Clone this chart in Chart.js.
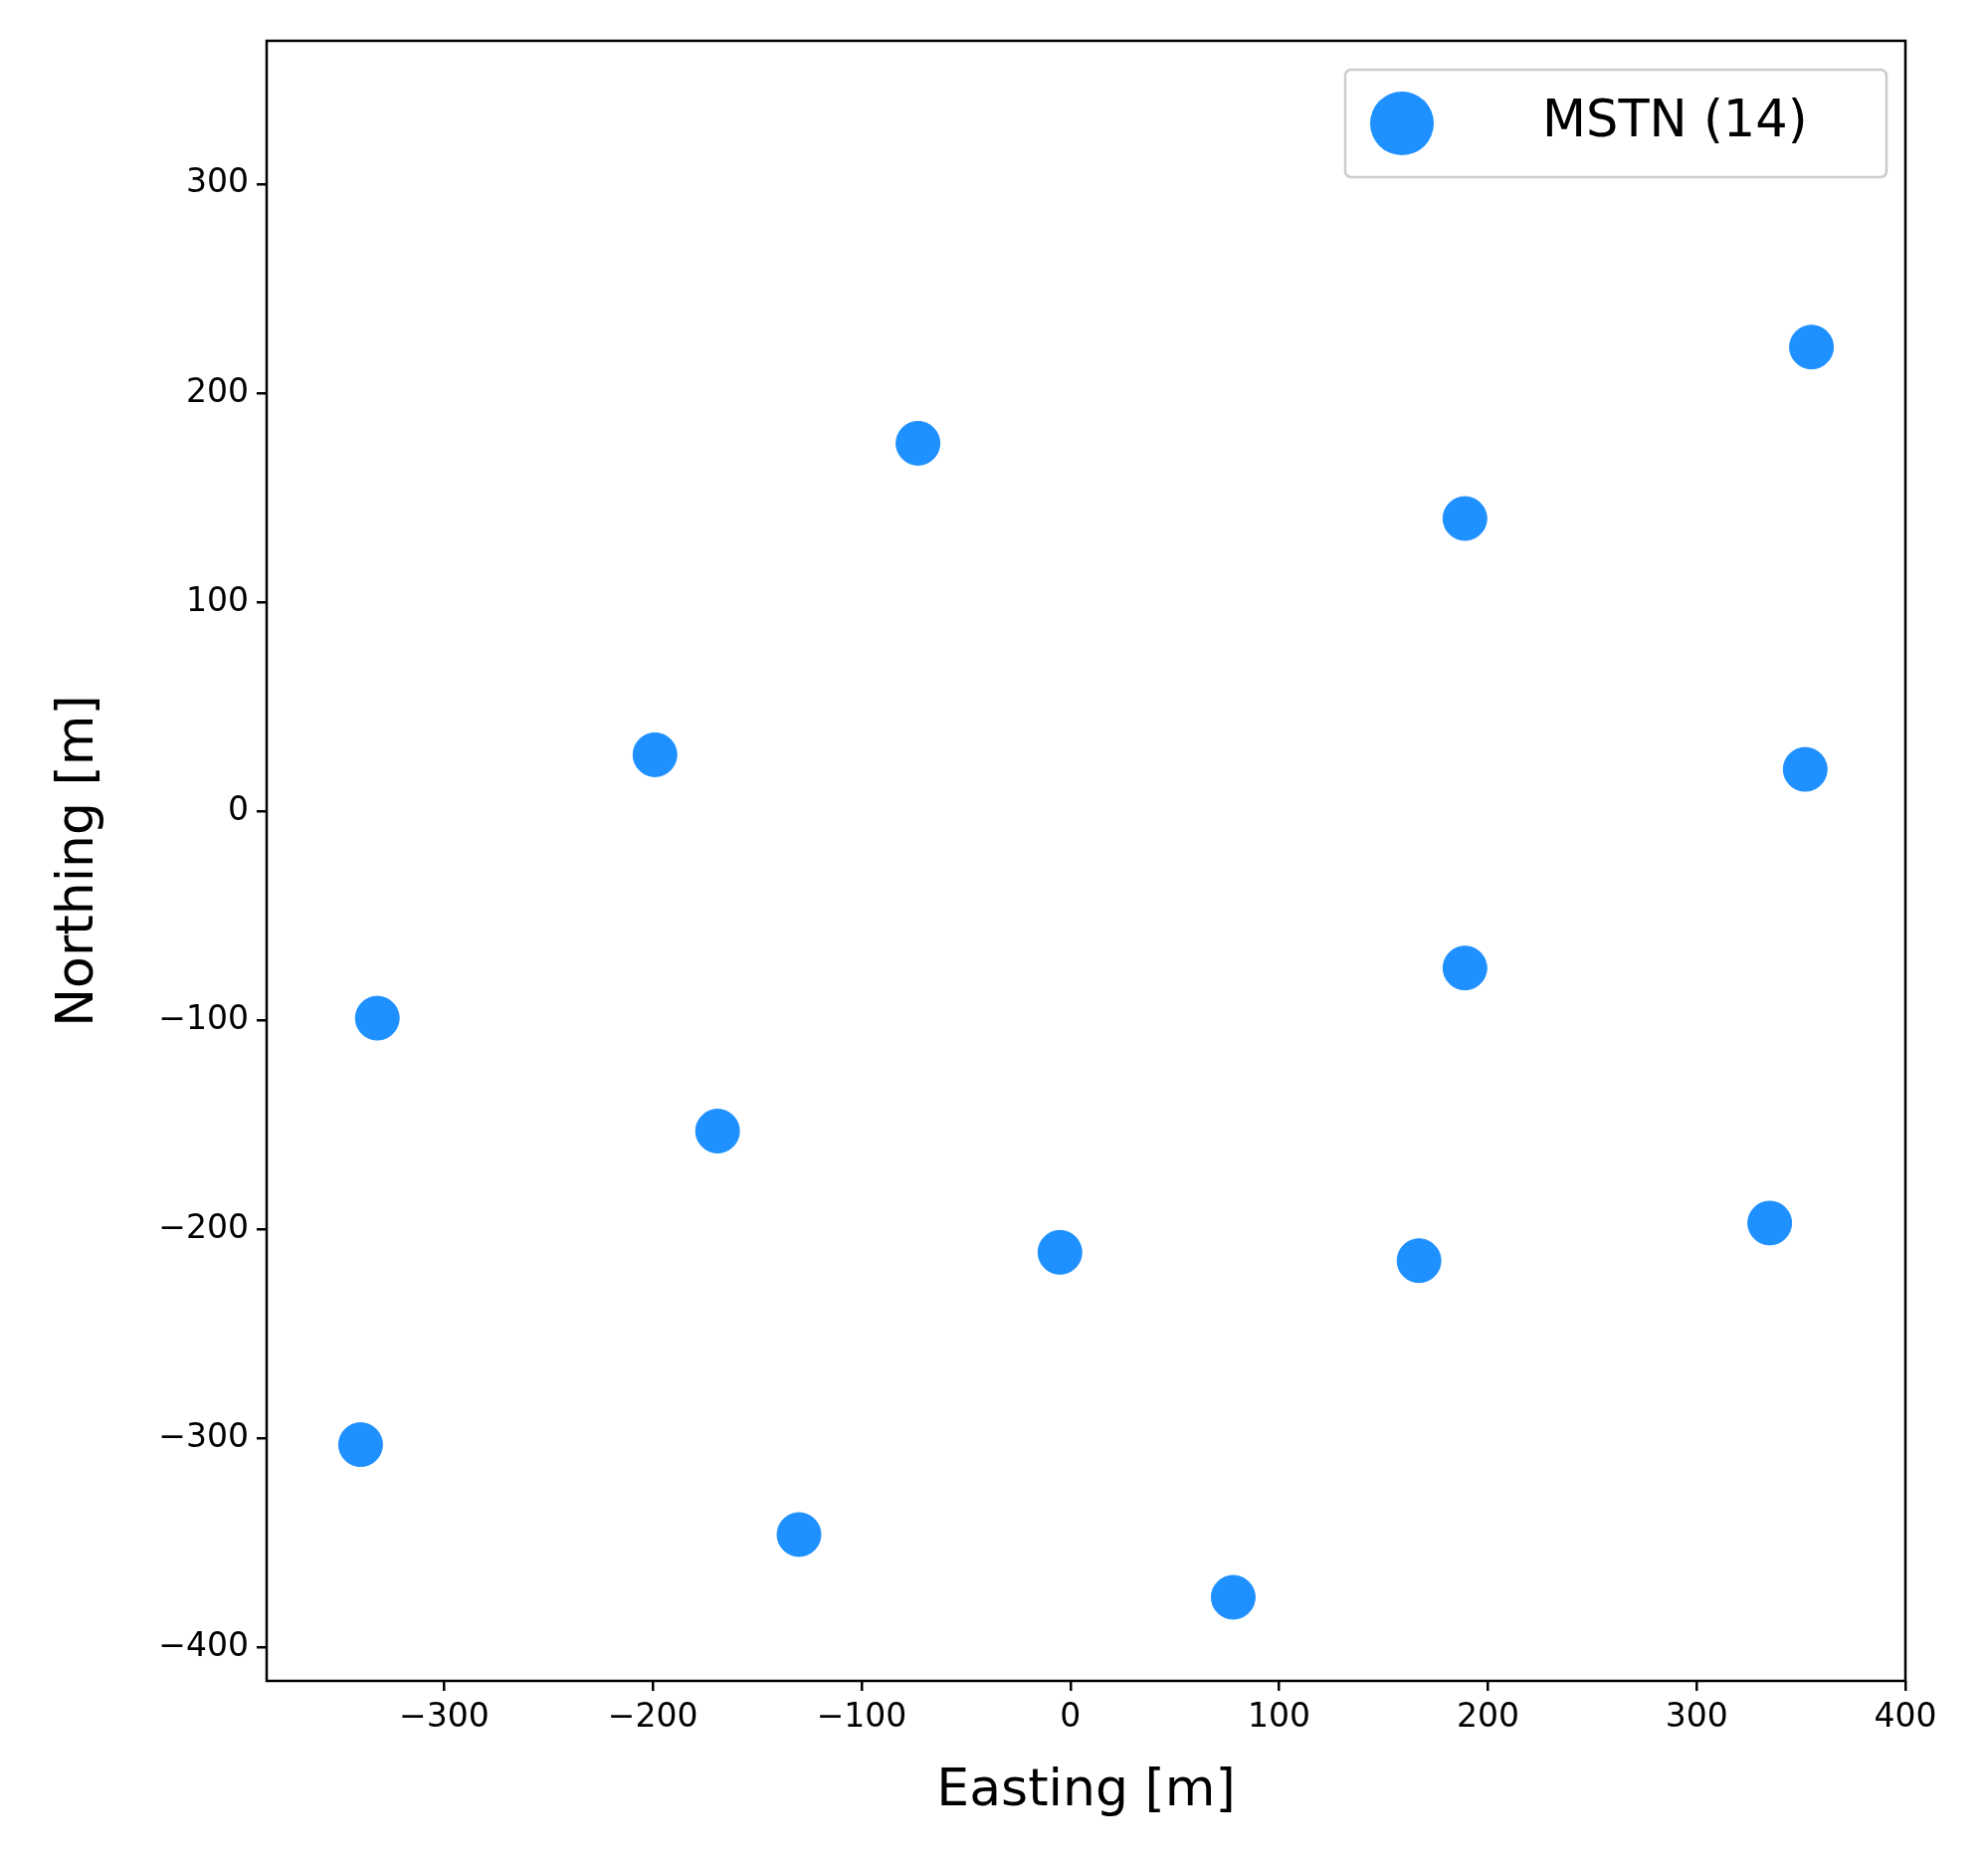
<!DOCTYPE html>
<html><head><meta charset="utf-8">
<script src="https://cdn.jsdelivr.net/npm/chart.js@4"></script>
<style>html,body{margin:0;padding:0;background:#fff}</style>
</head><body>
<canvas id="c" width="1998" height="1877"></canvas>
<script>
const eastings  = [-340,-332,-199,-169,-130,-73,-5,78,167,189,189,335,352,355];
const northings = [-303,-99,27,-153,-346,176,-211,-376,-215,140,-75,-197,20,222];
const seriesLabel = 'MSTN (14)';
const xTicks = [-300,-200,-100,0,100,200,300,400];
const yTicks = [-400,-300,-200,-100,0,100,200,300];
const color = '#1e90ff';
const FONT = 'DejaVu Sans';

const frame = {
  id:'frame',
  afterDraw(ch){
    const {ctx, chartArea:a} = ch;
    ctx.save();
    ctx.strokeStyle='#000'; ctx.lineWidth=2.5;
    ctx.strokeRect(a.left,a.top,a.right-a.left,a.bottom-a.top);
    const bx=1352, by=70, bw=544, bh=108;
    ctx.fillStyle='rgba(255,255,255,0.8)';
    ctx.strokeStyle='#cccccc'; ctx.lineWidth=2.5;
    ctx.beginPath(); ctx.roundRect(bx,by,bw,bh,6); ctx.fill(); ctx.stroke();
    ctx.fillStyle=color; ctx.beginPath(); ctx.arc(1409,124,32,0,Math.PI*2); ctx.fill();
    ctx.fillStyle='#000'; ctx.font='51px "'+FONT+'"'; ctx.textBaseline='middle'; ctx.textAlign='left';
    ctx.fillText(seriesLabel,1550,124);
    ctx.restore();
  }
};

new Chart(document.getElementById('c'),{
  type:'scatter',
  data:{datasets:[{label:seriesLabel,data:eastings.map((x,i)=>({x,y:northings[i]})),
    backgroundColor:color,borderColor:color,pointRadius:22,pointHoverRadius:22}]},
  options:{
    responsive:false,devicePixelRatio:1,animation:false,
    layout:{padding:{top:41,right:83,left:44,bottom:41}},
    plugins:{legend:{display:false},tooltip:{enabled:false}},
    scales:{
      x:{type:'linear',min:-385,max:400,
        afterBuildTicks(s){s.ticks=xTicks.map(v=>({value:v}));},
        afterFit(s){s.height=147;},
        grid:{display:true,drawOnChartArea:false,tickLength:10,color:'#000',lineWidth:2.5},
        border:{display:false},
        ticks:{color:'#000',font:{family:FONT,size:33},padding:8,callback:v=>String(v).replace('-','\u2212')},
        title:{display:true,text:'Easting [m]',color:'#000',font:{family:FONT,size:52},padding:{top:0}}},
      y:{type:'linear',min:-416,max:368.5,
        afterBuildTicks(s){s.ticks=yTicks.map(v=>({value:v}));},
        afterFit(s){s.width=224;},
        grid:{display:true,drawOnChartArea:false,tickLength:10,color:'#000',lineWidth:2.5},
        border:{display:false},
        ticks:{color:'#000',font:{family:FONT,size:33},padding:8,callback:v=>String(v).replace('-','\u2212')},
        title:{display:true,text:'Northing [m]',color:'#000',font:{family:FONT,size:52},padding:{bottom:10}}}
    }
  },
  plugins:[frame]
});
</script>
</body></html>
